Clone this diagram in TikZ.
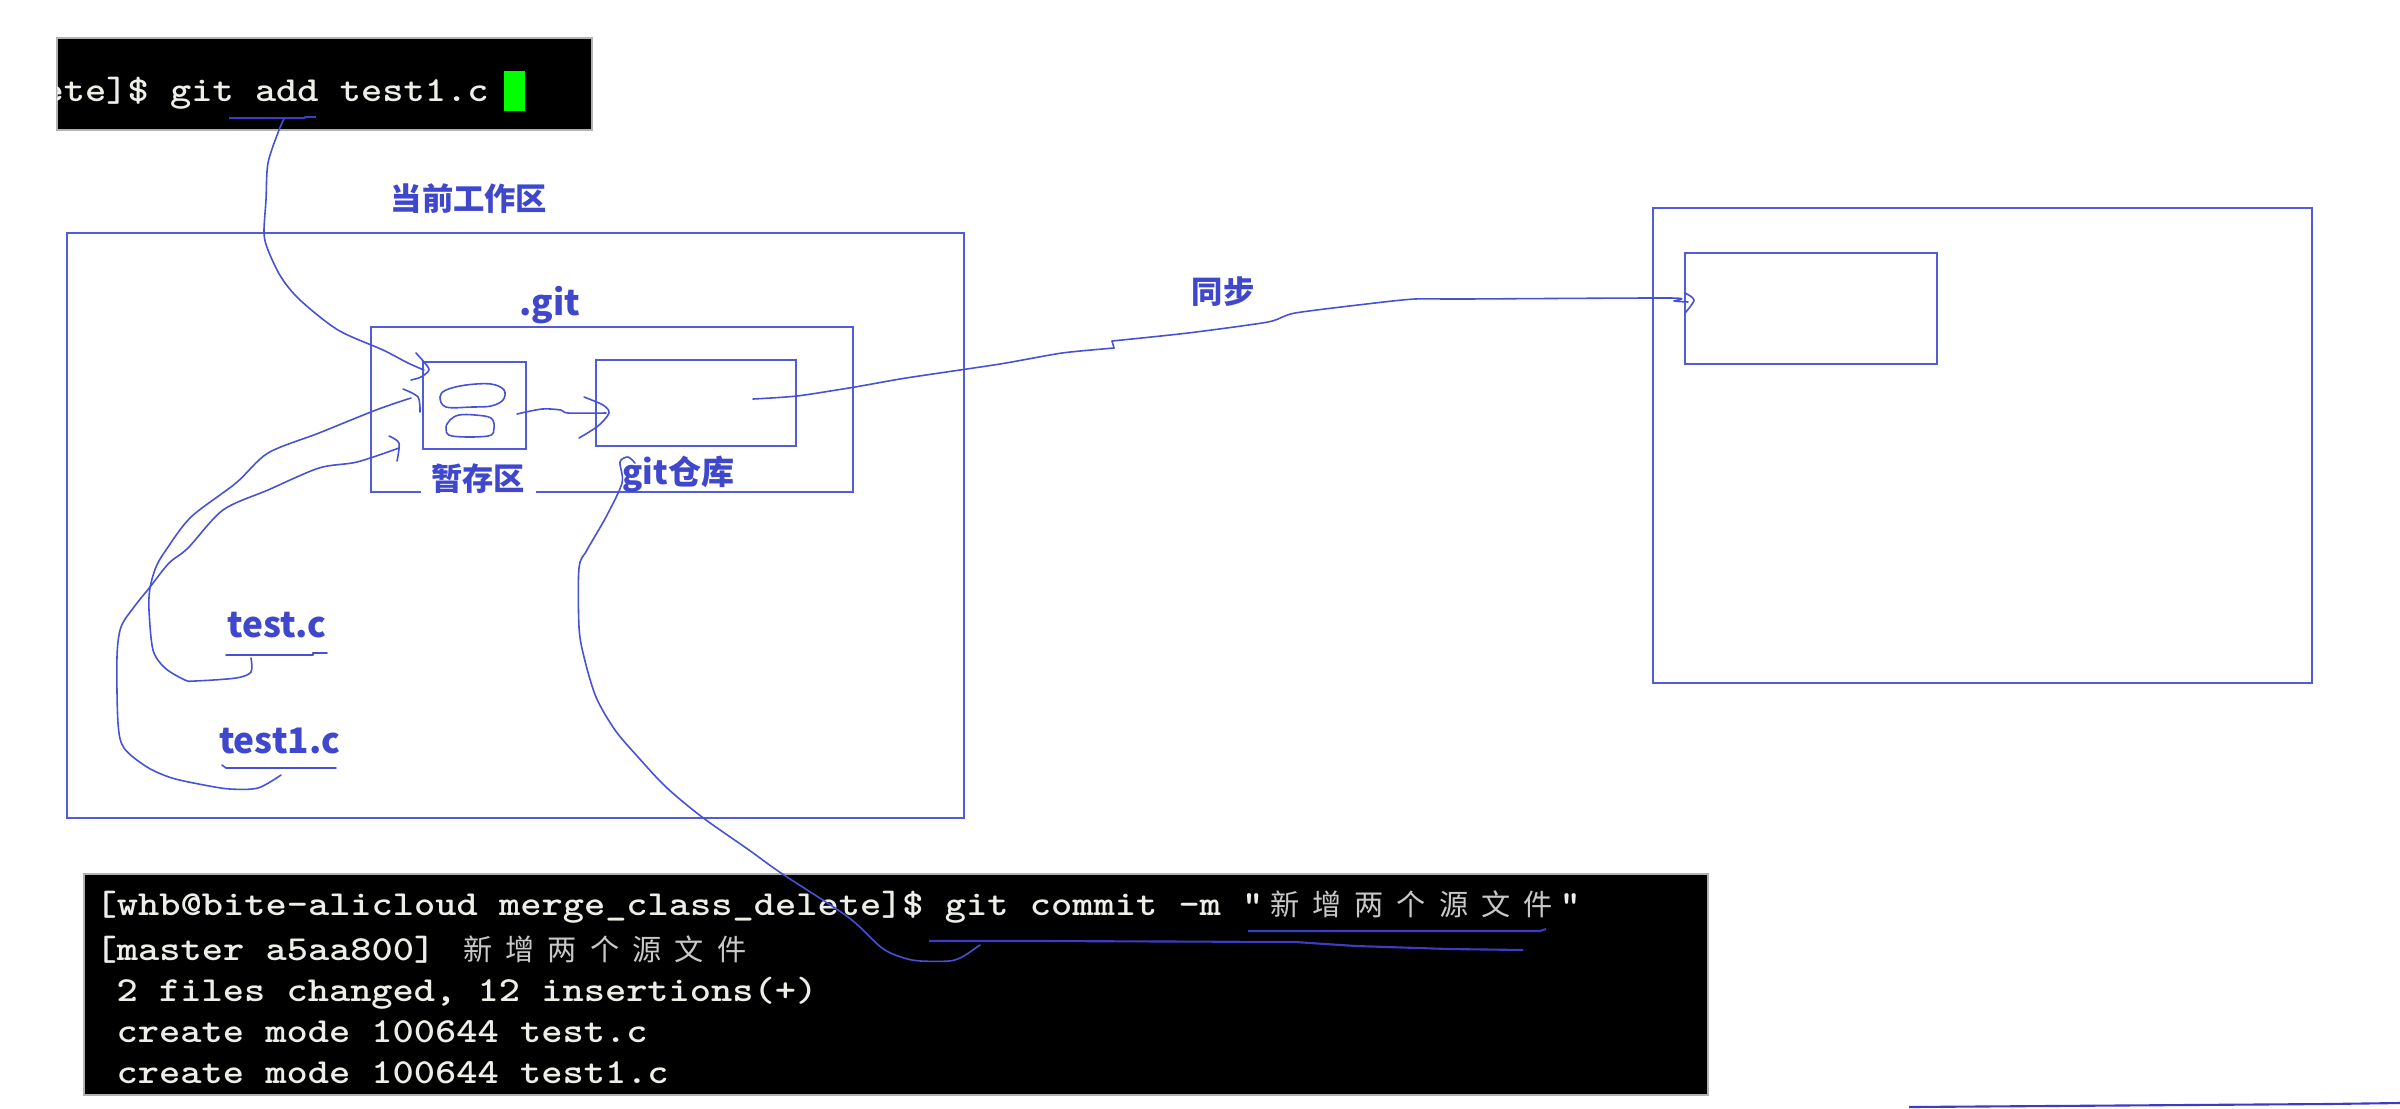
\documentclass[tikz,border=0pt]{standalone}
\usepackage{fontspec}
\newfontfamily\termfont{lmmonolt10-bold.otf}[FakeStretch=1.15]
\newfontfamily\labfont{Noto Sans CJK SC}
\newfontfamily\cjkterm{Noto Sans CJK SC}
\definecolor{labblue}{RGB}{63,72,204}
\definecolor{boxblue}{RGB}{80,92,218}
\definecolor{penblue}{RGB}{70,82,214}
\definecolor{inkblue}{RGB}{60,60,200}
\definecolor{termwhite}{RGB}{238,238,232}
\definecolor{termgray}{RGB}{200,200,200}
\definecolor{cursorgreen}{RGB}{0,255,0}
\newcommand\cj[1]{\makebox[12.03pt][c]{\cjkterm\fontsize{8.3}{10}\selectfont\color{termgray}#1}}
\tikzset{
  lab/.style={text=labblue, font=\labfont\bfseries\fontsize{8.9}{10}\selectfont, inner sep=0pt},
  latlab/.style={text=labblue, font=\labfont\bfseries\fontsize{10}{11}\selectfont, inner sep=0pt, anchor=base},
  boxline/.style={draw=boxblue, line width=0.6pt},
  hand/.style={draw=penblue, line width=0.45pt, line join=round, line cap=round},
  inkline/.style={draw=inkblue, line width=0.6pt, line join=round},
  term/.style={font=\termfont\fontsize{10}{12}\selectfont, text=termwhite, anchor=base west, inner sep=0pt},
}
\begin{document}
\begin{tikzpicture}[x=0.01cm, y=-0.01cm]
\useasboundingbox[fill=white] (0,0) rectangle (2400,1108);

% ---- top terminal ----
\fill[black] (57,38) rectangle (592,130);
\draw[gray!60, line width=0.3pt] (57,38) rectangle (592,130);
\begin{scope}
\clip (57,38) rectangle (592,130);
\node[term] (addcmd) at (42,101) {ete]\$ git add test1.c};
\end{scope}
\fill[cursorgreen] (504,71) rectangle (525,111);
\draw[inkline] (229,118) -- (305,118) -- (305,117) -- (316,117);
\coordinate (addU) at (284,119);

% ---- working area ----
\draw[boxline] (67,233) rectangle (964,818);
\node[lab] (wsLabel) at (469,199) {当前工作区};
\draw[boxline] (371,327) rectangle (853,492);
\node[latlab] (gitLabel) at (549.5,315) {.git};
\draw[boxline] (423,362) rectangle (526,449);
\draw[boxline] (596,360) rectangle (796,446);
\node[lab, fill=white, inner xsep=3pt, inner ysep=1pt] (stageLabel) at (478,479) {暂存区};
\node[lab, font=\labfont\bfseries\fontsize{9.4}{10}\selectfont] (repoLabel) at (678.5,474) {git仓库};

% ovals in staging
\draw[hand] plot[smooth cycle, tension=0.6] coordinates {(446,407) (440,397) (446,390) (466,385) (491,384) (504,390) (503,400) (491,406) (472,407)};
\draw[hand] plot[smooth cycle, tension=0.6] coordinates {(459,415) (450,420) (446,428) (452,436) (488,436) (494,428) (491,418) (475,415)};

% staging -> repo arrow
\draw[hand] plot[smooth, tension=0.5] coordinates {(517,414) (542,409) (561,410) (568,413) (606,413)};
\draw[hand] plot[smooth, tension=0.5] coordinates {(584,397) (603,405) (609,413) (598,426) (579,438)};

% labels test.c / test1.c
\node[latlab] (testc) at (277,637) {test.c};
\draw[hand] (226,655) -- (313,655) -- (313,653) -- (327,653);
\node[latlab] (test1c) at (279.5,753) {test1.c};
\draw[hand] (222,765) -- (226,768) -- (336,768);

% git add curve
\draw[hand] plot[smooth, tension=0.5] coordinates {(addU) (279,130) (268,163) (266,200) (264,233) (268,250) (281,277) (300,300) (338,330) (383,350) (408,363) (424,370)};
\draw[hand] plot[smooth, tension=0.5] coordinates {(416,353) (424,362) (429,370) (421,377) (411,380)};

% test.c curve
\draw[hand] plot[smooth, tension=0.5] coordinates {(251,658) (251,672) (236,678) (195,681) (185,680) (165,668) (153,650) (149,610) (150,588) (156,567) (166,550) (191,517) (236,483) (268,453) (319,433) (376,410) (411,398)};
\draw[hand] plot[smooth, tension=0.5] coordinates {(403,389) (418,397) (420,412)};

% test1.c curve
\draw[hand] plot[smooth, tension=0.5] coordinates {(281,775) (258,788) (230,789) (204,785) (172,778) (147,767) (124,748) (118,723) (117,657) (121,627) (134,607) (150,587) (169,563) (188,548) (223,510) (268,490) (319,468) (357,462) (399,448)};
\draw[hand] plot[smooth, tension=0.5] coordinates {(389,436) (399,443) (397,461)};

% ---- remote ----
\draw[boxline] (1653,208) rectangle (2312,683);
\draw[boxline] (1685,253) rectangle (1937,364);
\node[lab] (syncLabel) at (1223,292) {同步};
\draw[hand] plot[smooth, tension=0.4] coordinates {(753,399) (797,396) (855,387) (906,378) (1000,364) (1062,353) (1114,348)};
\draw[hand] (1114,348) -- (1112,341);
\draw[hand] plot[smooth, tension=0.4] coordinates {(1112,341) (1188,333) (1268,322) (1295,313) (1375,303) (1415,299) (1464,299) (1671,298) (1674,301) (1688,302)};
\draw[hand] plot[smooth, tension=0.5] coordinates {(1685,293) (1694,300) (1685,313)};

% ---- bottom terminal ----
\fill[black] (84,874) rectangle (1708,1095);
\draw[gray!60, line width=0.3pt] (84,874) rectangle (1708,1095);
\node[term] (c1) at (95,915) {[whb@bite-alicloud merge\_class\_delete]\$ git commit -m "\cj{新}\cj{增}\cj{两}\cj{个}\cj{源}\cj{文}\cj{件}"};
\node[term] (c2) at (95,960) {[master a5aa800] \cj{新}\cj{增}\cj{两}\cj{个}\cj{源}\cj{文}\cj{件}};
\node[term] (c3) at (116,1001) {2 files changed, 12 insertions(+)};
\node[term] (c4) at (116,1042) {create mode 100644 test.c};
\node[term] (c5) at (116,1083) {create mode 100644 test1.c};
\draw[inkline] (1248,931) -- (1540,931) -- (1546,929);
\draw[inkline] (929,941) -- (1043,941) -- (1295,942) -- (1356,946) -- (1449,949) -- (1523,950);

% git repo curve down to commit
\draw[hand] plot[smooth, tension=0.5] coordinates {(635,463) (628,457) (620,462) (622,483) (606,517) (587,550) (579,568) (579,627) (584,657) (596,697) (615,730) (638,757) (666,787) (702,817) (749,850) (781,873) (848,917) (882,948) (904,958) (921,961) (949,961) (962,957) (980,945)};

% bottom-right stroke
\draw[inkline] (1909,1107) -- (2049,1106) -- (2188,1105) -- (2327,1104) -- (2400,1103);
\end{tikzpicture}
\end{document}
